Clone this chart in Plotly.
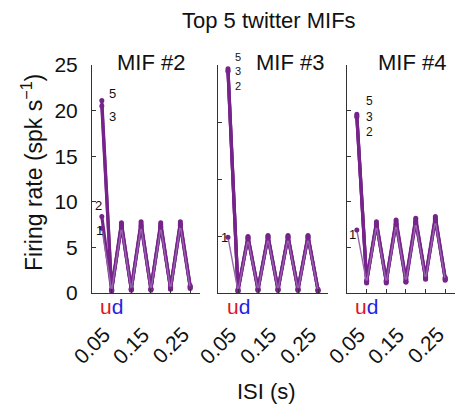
import plotly.graph_objects as go

# ISI bins (s)
isi = [0.025, 0.05, 0.075, 0.1, 0.125, 0.15, 0.175, 0.2, 0.225, 0.25]

# Firing rates (spk/s) for the top curves in each MIF panel
mif2 = {
    "5": [21.1, 0.4, 7.7, 0.5, 7.8, 0.5, 7.7, 0.6, 7.8, 0.8],
    "3": [20.5, 0.3, 7.3, 0.4, 7.4, 0.4, 7.3, 0.5, 7.4, 0.6],
    "2": [8.4, 0.3, 7.5, 0.4, 7.6, 0.4, 7.5, 0.5, 7.6, 0.7],
    "1": [7.1, 0.2, 7.2, 0.3, 7.3, 0.3, 7.2, 0.4, 7.4, 0.5],
}
mif3 = {
    "5": [24.6, 0.4, 6.2, 0.5, 6.3, 0.5, 6.3, 0.5, 6.3, 0.4],
    "3": [24.4, 0.3, 6.0, 0.3, 6.1, 0.3, 6.1, 0.4, 6.1, 0.3],
    "2": [24.3, 0.2, 6.1, 0.4, 6.2, 0.4, 6.2, 0.3, 6.2, 0.3],
    "1": [6.1, 0.2, 5.9, 0.3, 6.0, 0.3, 6.0, 0.3, 6.0, 0.2],
}
mif4 = {
    "5": [19.6, 1.4, 7.8, 1.4, 8.0, 1.5, 8.2, 1.8, 8.4, 1.7],
    "3": [19.4, 1.2, 7.6, 1.2, 7.8, 1.3, 8.0, 1.6, 8.2, 1.5],
    "2": [19.3, 1.3, 7.5, 1.3, 7.6, 1.2, 7.8, 1.7, 8.0, 1.6],
    "1": [6.9, 1.1, 7.4, 1.1, 7.5, 1.2, 7.7, 1.5, 7.9, 1.4],
}

panels = [("MIF #2", mif2), ("MIF #3", mif3), ("MIF #4", mif4)]

# x ticks and their labels
xticks = [0.05, 0.1, 0.15, 0.2, 0.25]
xlabels = {0.05: "0.05", 0.15: "0.15", 0.25: "0.25"}

W, H = 457, 409
FONT = "Liberation Sans, Arial, Helvetica, sans-serif"
PURPLE = "rgb(118,36,138)"
LIGHT = "rgb(150,100,172)"
INK = "#111"

# panel extents in pixels (left, right), shared vertical extent
xpix = [(92, 200), (218, 328), (347, 455)]
ytop, ybot = 65, 293
ydom = [(H - ybot) / H, (H - ytop) / H]
YMAX = 25

fig = go.Figure()
for i, (name, curves) in enumerate(panels):
    ax = "" if i == 0 else str(i + 1)
    for key, vals in curves.items():
        thin = key == "1"
        fig.add_trace(go.Scatter(
            x=isi, y=vals, mode="lines+markers",
            line=dict(color=LIGHT if thin else PURPLE, width=1.4 if thin else 3.2),
            marker=dict(size=5, color=PURPLE),
            xaxis="x" + ax, yaxis="y" + ax, showlegend=False, cliponaxis=False,
        ))

layout = dict(
    width=W, height=H, margin=dict(l=0, r=0, t=0, b=0, autoexpand=False),
    paper_bgcolor="white", plot_bgcolor="white",
    font=dict(family=FONT, size=20, color=INK),
    showlegend=False,
)

ytick_sets = [
    dict(tickvals=[0, 5, 10, 15, 20, 25], showticklabels=True),
    dict(tickvals=[0, 6.25, 12.5, 18.75, 25], showticklabels=False),
    dict(tickvals=[0, 5, 10, 15, 20, 25], showticklabels=False),
]

for i in range(3):
    ax = "" if i == 0 else str(i + 1)
    x0, x1 = xpix[i]
    layout["xaxis" + ax] = dict(
        domain=[x0 / W, x1 / W], range=[0, 0.275], anchor="y" + ax,
        tickvals=xticks, showticklabels=False, automargin=False,
        ticks="inside", ticklen=4, tickcolor="#333",
        showline=True, linecolor="#333", linewidth=1,
        showgrid=False, zeroline=False,
    )
    layout["yaxis" + ax] = dict(
        domain=ydom, range=[0, YMAX], anchor="x" + ax, automargin=False,
        ticks="inside", ticklen=4, tickcolor="#333",
        ticklabelstandoff=9,
        showline=True, linecolor="#333", linewidth=1,
        showgrid=False, zeroline=False,
        tickfont=dict(size=21, family=FONT, color=INK),
        **ytick_sets[i],
    )

fig.update_layout(**layout)


def label(text, x, y, xref="paper", yref="paper", size=22, **kw):
    d = dict(text=text, x=x, y=y, xref=xref, yref=yref, showarrow=False,
             xanchor="center", yanchor="middle", borderpad=0,
             font=dict(size=size, family=FONT, color=INK))
    d.update(kw)
    return d


ann = []
# overall title and axis titles
ann.append(label("Top 5 twitter MIFs", 269 / W, 1 - 20 / H))
ann.append(label("ISI (s)", 266 / W, 1 - 391 / H))
ann.append(label("Firing rate (spk s<sup>\u22121</sup>)", 32 / W, 1 - 173 / H,
                 textangle=-90, size=23))

# panel names
for (name, _), cx in zip(panels, [151, 290, 412]):
    ann.append(label(name, cx / W, 1 - 62 / H))

span = ybot - ytop
for i in range(3):
    ax = "" if i == 0 else str(i + 1)
    # up/down markers under each x axis
    ann.append(label("<span style='color:#e3161d'>u</span><span style='color:#1f1fe6'>d</span>",
                     0.05, -(306 - ybot) / span, xref="x" + ax, yref="y" + ax + " domain",
                     size=21))
    # rotated x tick labels
    for v, t in xlabels.items():
        ann.append(label(t, v + 0.01, -(321 - ybot) / span, xref="x" + ax,
                         yref="y" + ax + " domain", size=21, xanchor="right",
                         yanchor="top", textangle=-45))

# curve index labels (axis-domain units so labels above the range stay visible)
labels = [
    ("", [("5", 0.051, 21.9, 13), ("3", 0.051, 19.4, 13),
          ("2", 0.017, 9.6, 13), ("1", 0.019, 6.8, 13)]),
    ("2", [("5<br>3<br>2", 0.051, 24.3, 11), ("1", 0.017, 6.1, 13)]),
    ("3", [("5<br>3<br>2", 0.058, 19.4, 12), ("1", 0.015, 6.4, 13)]),
]
for ax, items in labels:
    for t, lx, ly, fs in items:
        ann.append(label(t, lx, ly / YMAX, xref="x" + ax, yref="y" + ax + " domain", size=fs))

fig.update_layout(annotations=ann)
fig.write_html("out.html")
